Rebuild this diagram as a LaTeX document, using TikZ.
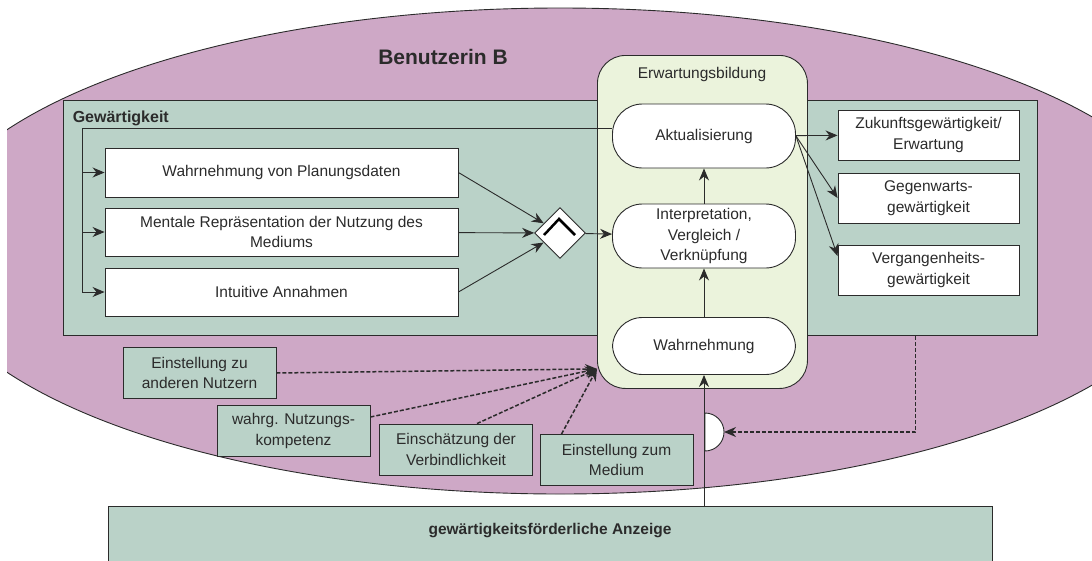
\documentclass[tikz,border=0pt]{standalone}
\usepackage{fontspec}
\setmainfont{Liberation Sans}
\usetikzlibrary{arrows.meta,calc,positioning,shapes.geometric}
\definecolor{lilac}{HTML}{CEA8C6}
\definecolor{sage}{HTML}{BAD2C8}
\definecolor{pale}{HTML}{EBF3DC}
\definecolor{ink}{HTML}{2B2B2B}

\begin{document}
\begin{tikzpicture}[x=1pt,y=-1pt,line width=.9pt,>={Stealth[length=12pt,width=10pt]},
 every node/.style={font=\fontsize{15.5}{20.5}\selectfont,text=ink},
 wbox/.style={draw=ink,fill=white,inner sep=0pt,align=center},
 gbox/.style={draw=ink,fill=sage,inner sep=0pt,align=center,minimum width=153pt,minimum height=51pt},
 pill/.style={draw=ink,fill=white,rounded corners=30pt,minimum width=183pt,inner sep=0pt,align=center},
 dep/.style={->,draw=ink,line width=1.5pt,dash pattern=on 4pt off 2pt}]
 \useasboundingbox (0,0) rectangle (1092,560);
 \begin{scope}
  \clip (7,0) rectangle (1092,560);
  \filldraw[fill=lilac,draw=ink] (560,251) ellipse [x radius=638,y radius=243];
 \end{scope}
 \node[font=\bfseries\fontsize{21}{25}\selectfont] (ben) at (443,57) {Benutzerin B};
 \node[draw=ink,fill=sage,inner sep=0pt,minimum width=974pt,minimum height=235pt,anchor=north west] (gew) at (63,100) {};
 \node[anchor=west,font=\bfseries\fontsize{16}{19}\selectfont] (gewl) at (69,118) {Gewärtigkeit};
 \node[draw=ink,fill=pale,inner sep=0pt,rounded corners=28pt,minimum width=210pt,minimum height=333pt,anchor=north west] (erw) at (597,55) {};
 \node (erwl) at (702,74) {Erwartungsbildung};
 \node[draw=ink,fill=sage,inner sep=0pt,minimum width=884pt,minimum height=60pt,anchor=north west] (anz) at (108,506) {};
 \node[font=\bfseries\fontsize{15.5}{18}\selectfont] (anzl) at (550,531) {gewärtigkeitsförderliche Anzeige};

 \node[pill,minimum height=64pt] (akt) at (704,136) {Aktualisierung};
 \node[pill,minimum height=64pt] (int) at (704,236) {Interpretation,\\Vergleich /\\Verknüpfung};
 \node[pill,minimum height=57pt] (wah) at (704,346) {Wahrnehmung};

 \node[wbox,minimum width=353pt,minimum height=49pt] (pla) at (281.5,172.5) {Wahrnehmung von Planungsdaten};
 \node[wbox,minimum width=353pt,minimum height=48pt] (rep) at (281.5,232) {Mentale Repräsentation der Nutzung des\\Mediums};
 \node[wbox,minimum width=353pt,minimum height=48pt] (ann) at (281.5,292) {Intuitive Annahmen};
 \node[diamond,draw=ink,fill=white,inner sep=0pt,minimum width=51pt,minimum height=51pt] (dia) at (560,233) {};
 \draw[line width=2.5pt] ($(dia.center)+(-16,2)$) -- ($(dia.center)+(-1,-14)$) -- ($(dia.center)+(15,2)$);

 \node[wbox,minimum width=181pt,minimum height=50pt] (zuk) at (928.5,135) {Zukunftsgewärtigkeit/\\Erwartung};
 \node[wbox,minimum width=181pt,minimum height=50pt] (geg) at (928.5,198) {Gegenwarts-\\gewärtigkeit};
 \node[wbox,minimum width=181pt,minimum height=50pt] (ver) at (928.5,270) {Vergangenheits-\\gewärtigkeit};

 \node[gbox] (nut) at (199.5,373) {Einstellung zu\\anderen Nutzern};
 \node[gbox] (kom) at (293.5,431) {wahrg. Nutzungs-\\kompetenz};
 \node[gbox] (vb) at (456,449.5) {Einschätzung der\\Verbindlichkeit};
 \node[gbox] (med) at (616.5,460) {Einstellung zum\\Medium};

 \coordinate (brt) at (82,128);
 \coordinate (brb) at (82,292);
 \draw[ink] (brb) -- (brt) -- ([yshift=8pt]akt.west);
 \foreach \b in {pla,rep,ann} \draw[->,ink] (brt |- \b.west) -- (\b.west);
 \draw[->,ink] (pla.east) -- (dia);
 \draw[->,ink] (rep) -- (dia);
 \draw[->,ink] (ann.east) -- (dia);
 \draw[->,ink] (dia) -- (int);
 \draw[->,ink] (wah) -- (int);
 \draw[->,ink] (int) -- (akt);
 \draw[->,ink] (akt) -- (zuk);
 \draw[->,ink] (akt.east) -- (geg.west);
 \draw[->,ink] (akt.east) -- ([yshift=14pt]ver.west);

 \filldraw[draw=ink,fill=white] (705,451) arc[start angle=90,end angle=-90,radius=19] -- cycle;
 \draw[->,ink] (anz.north -| wah.south) -- (wah.south);

 \coordinate (erwin) at ([yshift=20pt]erw.south west);
 \coordinate (half) at (724,432);
 \draw[dep] (nut.east) -- (erwin);
 \draw[dep] ([yshift=14pt]kom.east) -- (erwin);
 \draw[dep] ([xshift=21pt]vb.north) -- (erwin);
 \draw[dep] ([xshift=-55pt]med.north) -- (erwin);
 \draw[dep] ([xshift=365pt]gew.south) |- (half);
\end{tikzpicture}
\end{document}
